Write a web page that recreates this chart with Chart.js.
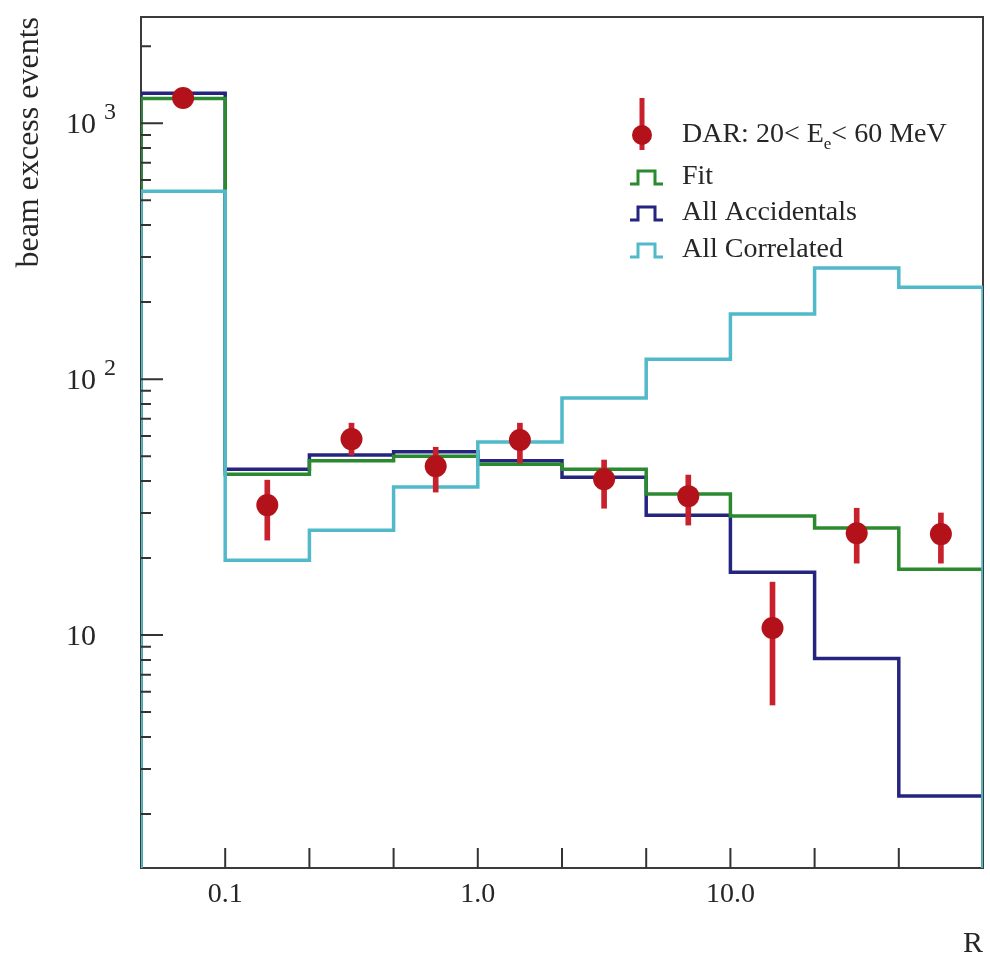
<!DOCTYPE html>
<html>
<head>
<meta charset="utf-8">
<script src="https://cdn.jsdelivr.net/npm/chart.js@4.4.1/dist/chart.umd.min.js"></script>
<style>
  html, body { margin: 0; padding: 0; background: #fff; }
  #wrap { width: 990px; height: 962px; }
</style>
</head>
<body>
<div id="wrap"><canvas id="rChart" width="990" height="962"></canvas></div>
<script>
// R bins (edges 0.05 0.1 0.2 0.5 1 2 5 10 20 50 100) drawn as equal-width bins 0..10
const xTickLabels = ['', '0.1', '', '', '1.0', '', '', '10.0', '', '', ''];
const yMajorTicks = [10, 100, 1000];
const yTickExponents = ['', '2', '3'];

// histogram contents per bin
const fitCounts = [1250, 42.5, 48, 50, 46.5, 44.5, 35.6, 29.2, 26.2, 18.1];
const accidentalCounts = [1310, 44.5, 50.5, 52, 48, 41.4, 29.4, 17.6, 8.1, 2.35];
const correlatedCounts = [542, 19.6, 25.7, 37.9, 56.8, 84.3, 119.7, 179.5, 271.6, 228.5];

// measured beam excess with error bar ends
const darCounts = [1255, 32.2, 58.3, 45.7, 57.8, 40.6, 34.9, 10.65, 25.0, 24.8];
const darLow = [1215, 23.5, 50.5, 36.2, 47.0, 31.3, 26.9, 5.33, 19.1, 19.1];
const darHigh = [1295, 40.3, 67.3, 54.2, 67.3, 48.3, 42.2, 16.1, 31.3, 30.0];

const Y_MIN = 1.23, Y_MAX = 2600;
const Y_FLOOR = 1; // outer histogram edges run below the axis and get clipped

const SERIF = '"Liberation Serif", "DejaVu Serif", serif';
const TEXT = '#262626';
const FIT_COLOR = '#2b8a2f';
const ACC_COLOR = '#25257f';
const CORR_COLOR = '#52b9ca';
const DOT_COLOR = '#b3121b';
const BAR_COLOR = '#c7212d';

function histogramPoints(counts) {
  const pts = [{x: 0, y: Y_FLOOR}];
  counts.forEach((c, i) => pts.push({x: i, y: c}));
  pts.push({x: counts.length, y: counts[counts.length - 1]});
  pts.push({x: counts.length, y: Y_FLOOR});
  return pts;
}

function histogram(label, counts, color) {
  return {
    type: 'line',
    label: label,
    data: histogramPoints(counts),
    stepped: true,
    borderColor: color,
    borderWidth: 3.5,
    pointRadius: 0,
    fill: false
  };
}

// frame, inward ticks, y labels with exponents and the legend
const decorations = {
  id: 'decorations',
  beforeDatasetsDraw(chart) {
    const {ctx, chartArea: a} = chart;
    ctx.save();
    ctx.strokeStyle = '#3a3a3a';
    ctx.lineWidth = 2;
    ctx.beginPath();
    ctx.moveTo(a.left, a.top);
    ctx.lineTo(a.right, a.top);
    ctx.lineTo(a.right, a.bottom);
    ctx.stroke();
    ctx.restore();
  },
  afterDatasetsDraw(chart) {
    const {ctx, chartArea: a, scales: {x, y}} = chart;
    ctx.save();
    ctx.strokeStyle = '#333';
    ctx.lineWidth = 2;
    ctx.beginPath();
    for (let i = 1; i < xTickLabels.length - 1; i++) {
      const px = x.getPixelForValue(i);
      ctx.moveTo(px, a.bottom);
      ctx.lineTo(px, a.bottom - 20);
    }
    for (let d = 1; d <= 1000; d *= 10) {
      for (let m = 1; m <= 9; m++) {
        const v = m * d;
        if (v < Y_MIN || v > Y_MAX) continue;
        const py = y.getPixelForValue(v);
        ctx.moveTo(a.left, py);
        ctx.lineTo(a.left + (m === 1 ? 22 : 10), py);
      }
    }
    ctx.stroke();

    // y tick labels: 10, 10^2, 10^3
    ctx.fillStyle = TEXT;
    yMajorTicks.forEach((v, i) => {
      const py = y.getPixelForValue(v);
      ctx.font = '30px ' + SERIF;
      ctx.textAlign = 'right';
      ctx.textBaseline = 'alphabetic';
      ctx.fillText('10', 96, py + 10);
      if (yTickExponents[i]) {
        ctx.font = '24px ' + SERIF;
        ctx.textAlign = 'left';
        ctx.fillText(yTickExponents[i], 104, py - 4);
      }
    });

    // legend
    const lx = 642, tx = 682;
    ctx.font = '28px ' + SERIF;
    ctx.textAlign = 'left';
    ctx.textBaseline = 'alphabetic';
    // data marker with its error bar
    ctx.strokeStyle = BAR_COLOR;
    ctx.lineWidth = 5;
    ctx.beginPath();
    ctx.moveTo(lx, 98);
    ctx.lineTo(lx, 150);
    ctx.stroke();
    ctx.fillStyle = DOT_COLOR;
    ctx.beginPath();
    ctx.arc(lx, 135, 10, 0, Math.PI * 2);
    ctx.fill();
    ctx.fillStyle = TEXT;
    let cx = tx;
    ctx.fillText('DAR: 20< E', cx, 142);
    cx += ctx.measureText('DAR: 20< E').width;
    ctx.font = '17px ' + SERIF;
    ctx.fillText('e', cx, 149);
    cx += ctx.measureText('e').width;
    ctx.font = '28px ' + SERIF;
    ctx.fillText('< 60 MeV', cx, 142);

    const rows = [
      {label: 'Fit', color: FIT_COLOR, base: 184},
      {label: 'All Accidentals', color: ACC_COLOR, base: 220},
      {label: 'All Correlated', color: CORR_COLOR, base: 257}
    ];
    rows.forEach(r => {
      const yb = r.base, yt = r.base - 13;
      ctx.strokeStyle = r.color;
      ctx.lineWidth = 3;
      ctx.beginPath();
      ctx.moveTo(630, yb);
      ctx.lineTo(638, yb);
      ctx.lineTo(638, yt);
      ctx.lineTo(655, yt);
      ctx.lineTo(655, yb);
      ctx.lineTo(663, yb);
      ctx.stroke();
      ctx.fillStyle = TEXT;
      ctx.fillText(r.label, tx, yb);
    });
    ctx.restore();
  }
};

const binCenters = darCounts.map((_, i) => i + 0.5);

new Chart(document.getElementById('rChart'), {
  type: 'line',
  data: {
    datasets: [
      {
        type: 'line',
        label: 'DAR: 20< Ee< 60 MeV',
        data: darCounts.map((v, i) => ({x: binCenters[i], y: v})),
        showLine: false,
        pointRadius: 11,
        pointHoverRadius: 11,
        pointBackgroundColor: DOT_COLOR,
        pointBorderWidth: 0
      },
      {
        type: 'bar',
        label: 'errors',
        data: darLow.map((lo, i) => ({x: binCenters[i], y: [lo, darHigh[i]]})),
        backgroundColor: BAR_COLOR,
        borderWidth: 0,
        barThickness: 5,
        grouped: false
      },
      histogram('All Correlated', correlatedCounts, CORR_COLOR),
      histogram('Fit', fitCounts, FIT_COLOR),
      histogram('All Accidentals', accidentalCounts, ACC_COLOR)
    ]
  },
  options: {
    responsive: false,
    animation: false,
    events: [],
    layout: { autoPadding: false, padding: { left: 0, top: 17, right: 7, bottom: 0 } },
    plugins: {
      legend: { display: false },
      tooltip: { enabled: false }
    },
    scales: {
      x: {
        type: 'linear',
        min: 0,
        max: 10,
        offset: false,
        grid: { display: false, drawTicks: false, offset: false },
        border: { display: true, color: '#3a3a3a', width: 2 },
        ticks: {
          stepSize: 1,
          autoSkip: false,
          maxRotation: 0,
          padding: 10,
          color: TEXT,
          font: { family: SERIF, size: 28 },
          callback: v => xTickLabels[v] || ''
        },
        title: {
          display: true,
          text: 'R',
          align: 'end',
          color: TEXT,
          font: { family: SERIF, size: 30 },
          padding: { top: 0, bottom: 0 }
        },
        afterFit: s => {
          s.height = 94;
          s.paddingLeft = 0;
          s.paddingRight = 0;
        }
      },
      y: {
        type: 'logarithmic',
        min: Y_MIN,
        max: Y_MAX,
        grid: { display: false, drawTicks: false },
        border: { display: true, color: '#3a3a3a', width: 2 },
        ticks: { display: false },
        title: {
          display: true,
          text: 'beam excess events',
          align: 'end',
          color: TEXT,
          font: { family: SERIF, size: 32 },
          padding: { top: 10, bottom: 0 }
        },
        afterFit: s => {
          s.width = 141;
          s.paddingTop = 0;
          s.paddingBottom = 0;
        }
      }
    }
  },
  plugins: [decorations]
});
</script>
</body>
</html>
